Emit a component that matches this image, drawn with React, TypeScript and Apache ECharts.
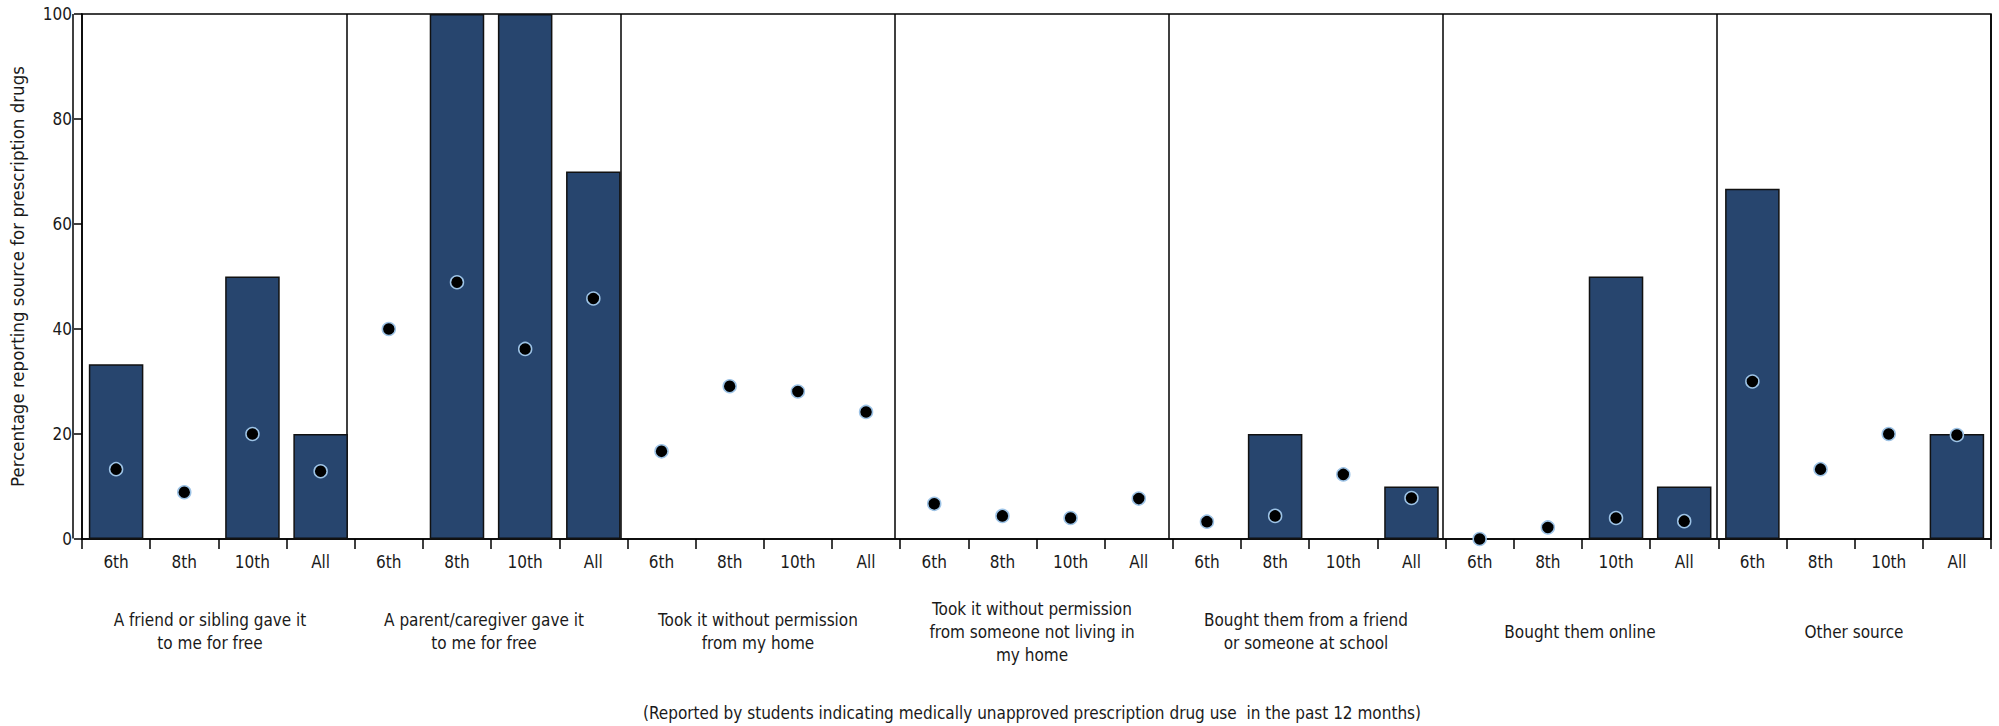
import React, { useEffect, useRef } from "react";
import * as echarts from "echarts";

const grades = ["6th", "8th", "10th", "All"];
const groups = [
  "A friend or sibling gave it\nto me for free",
  "A parent/caregiver gave it\nto me for free",
  "Took it without permission\nfrom my home",
  "Took it without permission\nfrom someone not living in\nmy home",
  "Bought them from a friend\nor someone at school",
  "Bought them online",
  "Other source",
];
// bars (per group: 6th, 8th, 10th, All)
const barValues = [
  33.3, 0, 50, 20,
  0, 100, 100, 70,
  0, 0, 0, 0,
  0, 0, 0, 0,
  0, 20, 0, 10,
  0, 0, 50, 10,
  66.7, 0, 0, 20,
];
// dots (per group: 6th, 8th, 10th, All)
const dotValues = [
  13.3, 8.9, 20, 12.9,
  40, 48.9, 36.2, 45.8,
  16.7, 29.1, 28.1, 24.2,
  6.7, 4.4, 4.0, 7.7,
  3.3, 4.4, 12.3, 7.8,
  0, 2.2, 4.0, 3.4,
  30, 13.3, 20, 19.8,
];
const yTicks = [0, 20, 40, 60, 80, 100];
const yTitle = "Percentage reporting source for prescription drugs";
const footer = "(Reported by students indicating medically unapproved prescription drug use  in the past 12 months)";

const FONT = "'Liberation Sans Narrow', 'DejaVu Sans Condensed', 'Open Sans', sans-serif";
const TXT = "#1a1a1a";

export default function App() {
  const ref = useRef<HTMLDivElement>(null);
  useEffect(() => {
    document.body.style.margin = "0";
    const chart = echarts.init(ref.current!, undefined, { renderer: "svg" });
    const cats: string[] = [];
    groups.forEach((_, gi) => grades.forEach((g) => cats.push(gi + "|" + g)));
    const gridPos = { left: 73, right: 8, top: 14, bottom: 187 };
    chart.setOption({
      animation: false,
      backgroundColor: "#fff",
      textStyle: { fontFamily: FONT },
      grid: [
        { ...gridPos, show: true, borderColor: "#000", borderWidth: 1.5, backgroundColor: "transparent" },
        { ...gridPos, show: false },
      ],
      xAxis: [
        {
          type: "category",
          gridIndex: 0,
          data: cats,
          boundaryGap: true,
          axisLine: { show: true, lineStyle: { color: "#000", width: 1.5 } },
          axisTick: { show: true, interval: 0, length: 10, lineStyle: { color: "#000", width: 1.5 } },
          axisLabel: {
            interval: 0,
            margin: 14,
            fontSize: 17,
            color: TXT,
            fontFamily: FONT,
            formatter: (v: string) => v.split("|")[1],
          },
          splitLine: { show: false },
        },
        {
          type: "category",
          gridIndex: 1,
          position: "bottom",
          data: groups,
          boundaryGap: true,
          axisLine: { show: false },
          axisTick: { show: false },
          axisLabel: {
            interval: 0,
            margin: 93,
            fontSize: 17,
            lineHeight: 23,
            verticalAlign: "middle",
            align: "center",
            color: TXT,
            fontFamily: FONT,
          },
          splitLine: { show: true, interval: 0, lineStyle: { color: "#000", width: 1.5 } },
          name: footer,
          nameLocation: "middle",
          nameGap: 174,
          nameTextStyle: { fontSize: 17, color: TXT, fontFamily: FONT, verticalAlign: "middle" },
        },
      ],
      yAxis: [
        {
          type: "value",
          gridIndex: 0,
          min: yTicks[0],
          max: yTicks[yTicks.length - 1],
          interval: 20,
          axisLine: { show: true, lineStyle: { color: "#000", width: 1.5 } },
          axisTick: { show: true, length: 8, lineStyle: { color: "#000", width: 1.5 } },
          axisLabel: { margin: 10, fontSize: 17, color: TXT, fontFamily: FONT },
          splitLine: { show: false },
          name: yTitle,
          nameLocation: "middle",
          nameGap: 55,
          nameRotate: 90,
          nameTextStyle: { fontSize: 18.5, color: TXT, fontFamily: FONT },
        },
        { type: "value", gridIndex: 1, min: 0, max: 100, show: false },
      ],
      series: [
        {
          type: "bar",
          xAxisIndex: 0,
          yAxisIndex: 0,
          data: barValues,
          barWidth: "80%",
          itemStyle: { color: "#27456E", borderColor: "#111", borderWidth: 1.5 },
          z: 2,
        },
        {
          type: "scatter",
          xAxisIndex: 0,
          yAxisIndex: 0,
          data: dotValues,
          symbol: "circle",
          symbolSize: 13,
          itemStyle: { color: "#000", borderColor: "#9DC3E6", borderWidth: 1.5, opacity: 1 },
          z: 5,
        },
      ],
    });
    return () => chart.dispose();
  }, []);
  return <div ref={ref} style={{ position: "absolute", left: 0, top: 0, width: 1999, height: 726 }} />;
}
